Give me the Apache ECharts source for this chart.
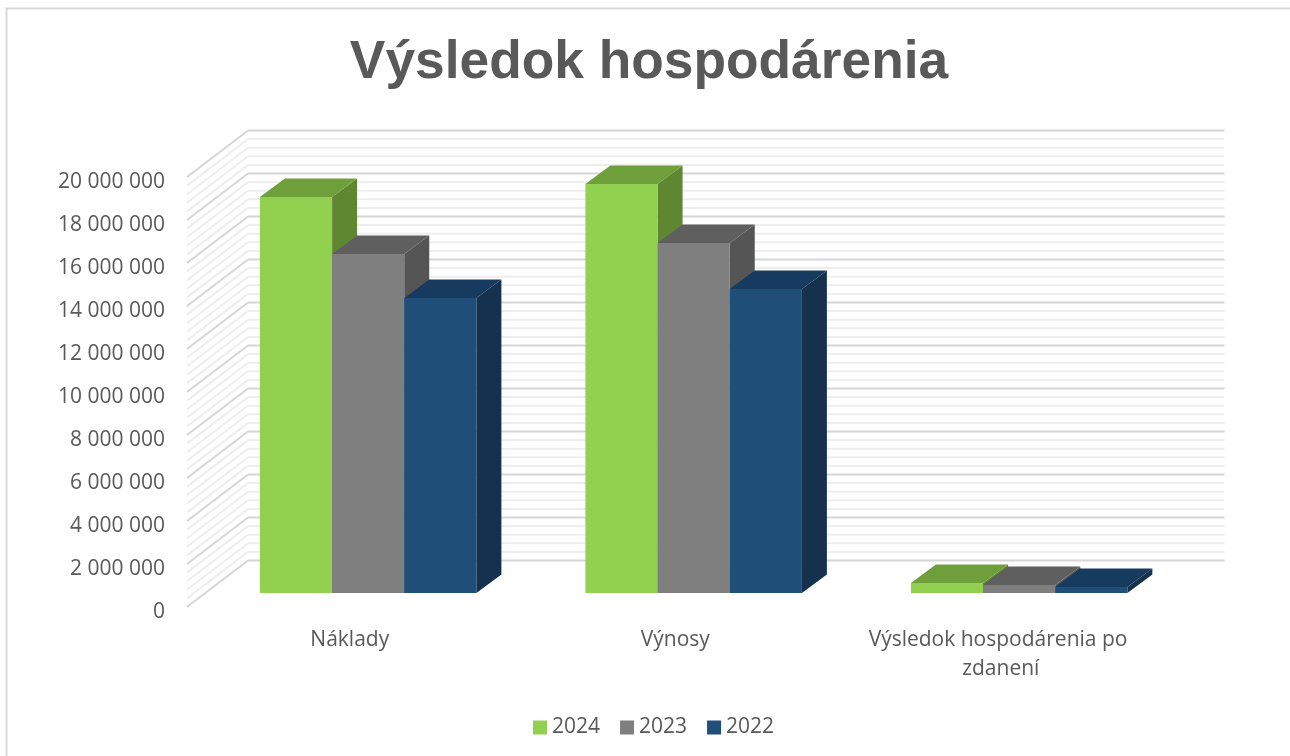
<!DOCTYPE html>
<html>
<head>
<meta charset="utf-8">
<title>Výsledok hospodárenia</title>
<script src="https://cdn.jsdelivr.net/npm/echarts@6/dist/echarts.min.js"></script>
<style>
    html, body { margin: 0; padding: 0; background: #fff; }
    #chart { width: 1290px; height: 756px; }
</style>
</head>
<body>
<div id="chart"></div>
<script>
const categories = ['Náklady', 'Výnosy', 'Výsledok hospodárenia po zdanení'];
const years = ['2024', '2023', '2022'];
const values2024 = [18420000, 19020000, 465000];
const values2023 = [15770000, 16280000, 370000];
const values2022 = [13720000, 14140000, 280000];
const majorTicks = [0, 2000000, 4000000, 6000000, 8000000, 10000000, 12000000, 14000000, 16000000, 18000000, 20000000];
const minorSteps = [400000, 800000, 1200000, 1600000];

const palette = [
    { front: '#92d14f', top: '#6f9f3b', side: '#5f8631' },
    { front: '#7f7f7f', top: '#5f5f5f', side: '#555555' },
    { front: '#1f4e79', top: '#173b5f', side: '#15314e' }
];

// depth of the fake 3d box, in pixels
const wallDepth = [61, -46.5];
const barShift = [18.4, -14];
const barDepth = [25, -18.5];
const barFraction = 0.2217;
const font = '"Open Sans", sans-serif';

function renderWall(params, api) {
    const value = api.value(1);
    const y = api.coord([0, value])[1];
    const box = params.coordSys;
    const major = majorTicks.indexOf(value) >= 0;
    const style = { stroke: major ? '#d6d6d6' : '#eeeeee', lineWidth: 2 };
    return {
        type: 'group',
        silent: true,
        children: [
            { type: 'line', shape: { x1: box.x, y1: y, x2: box.x + wallDepth[0], y2: y + wallDepth[1] }, style: style },
            { type: 'line', shape: { x1: box.x + wallDepth[0], y1: y + wallDepth[1], x2: box.x + box.width + wallDepth[0], y2: y + wallDepth[1] }, style: style }
        ]
    };
}

function barRenderer(index) {
    return function (params, api) {
        const top = api.coord([api.value(0), api.value(1)]);
        const base = api.coord([api.value(0), 0]);
        const width = api.size([1, 0])[0] * barFraction;
        const x0 = top[0] + barShift[0] + (index - 1.5) * width;
        const x1 = x0 + width;
        const y0 = top[1] + barShift[1];
        const y1 = base[1] + barShift[1];
        const dx = barDepth[0], dy = barDepth[1];
        const c = palette[index];
        return {
            type: 'group',
            silent: true,
            children: [
                { type: 'polygon', shape: { points: [[x1, y0], [x1 + dx, y0 + dy], [x1 + dx, y1 + dy], [x1, y1]] }, style: { fill: c.side } },
                { type: 'polygon', shape: { points: [[x0, y0], [x0 + dx, y0 + dy], [x1 + dx, y0 + dy], [x1, y0]] }, style: { fill: c.top } },
                { type: 'rect', shape: { x: x0, y: y0, width: width, height: y1 - y0 }, style: { fill: c.front } }
            ]
        };
    };
}

// major gridlines plus the four lighter ones above each of them
const wallData = [];
majorTicks.forEach(function (tick, i) {
    wallData.push([0, tick]);
    if (i < majorTicks.length - 1) {
        minorSteps.forEach(function (step) { wallData.push([0, tick + step]); });
    }
});

function barSeries(name, values, index) {
    return {
        name: name,
        type: 'custom',
        renderItem: barRenderer(index),
        itemStyle: { color: palette[index].front },
        encode: { x: 0, y: 1 },
        data: values.map(function (v, i) { return [i, v]; }),
        z: 3 + index
    };
}

const chart = echarts.init(document.getElementById('chart'), null, { renderer: 'canvas' });
chart.setOption({
    animation: false,
    backgroundColor: '#ffffff',
    title: {
        text: 'Výsledok hospodárenia',
        left: 644,
        top: 32,
        textAlign: 'center',
        textStyle: { fontFamily: '"Liberation Sans", Arial, sans-serif', fontWeight: 'bold', fontSize: 53.3, color: '#595959' }
    },
    legend: {
        data: years,
        left: 533,
        top: 717,
        padding: 0,
        itemWidth: 14,
        itemHeight: 14,
        itemGap: 20,
        icon: 'rect',
        textStyle: { fontFamily: font, fontSize: 21, color: '#595959' }
    },
    grid: { left: 187, top: 177, width: 976.5, height: 430 },
    xAxis: {
        type: 'category',
        data: categories,
        axisLine: { show: false },
        axisTick: { show: false },
        axisLabel: {
            interval: 0,
            margin: 19,
            width: 290,
            overflow: 'break',
            lineHeight: 29,
            fontFamily: font,
            fontSize: 21,
            color: '#595959'
        }
    },
    yAxis: {
        type: 'value',
        min: 0,
        max: 20000000,
        interval: 2000000,
        axisLine: { show: false },
        axisTick: { show: false },
        splitLine: { show: false },
        axisLabel: {
            margin: 22,
            verticalAlign: 'top',
            lineHeight: 11,
            fontFamily: font,
            fontSize: 21,
            color: '#595959',
            formatter: function (v) { return String(v).replace(/\B(?=(\d{3})+$)/g, ' '); }
        }
    },
    graphic: [{
        type: 'polyline',
        silent: true,
        shape: { points: [[6.5, 756], [6.5, 8.5], [1290, 8.5]] },
        style: { fill: null, stroke: '#d9d9d9', lineWidth: 2 }
    }],
    series: [
        { type: 'custom', renderItem: renderWall, encode: { x: 0, y: 1 }, data: wallData, z: 1, silent: true },
        barSeries(years[0], values2024, 0),
        barSeries(years[1], values2023, 1),
        barSeries(years[2], values2022, 2)
    ]
});
</script>
</body>
</html>
